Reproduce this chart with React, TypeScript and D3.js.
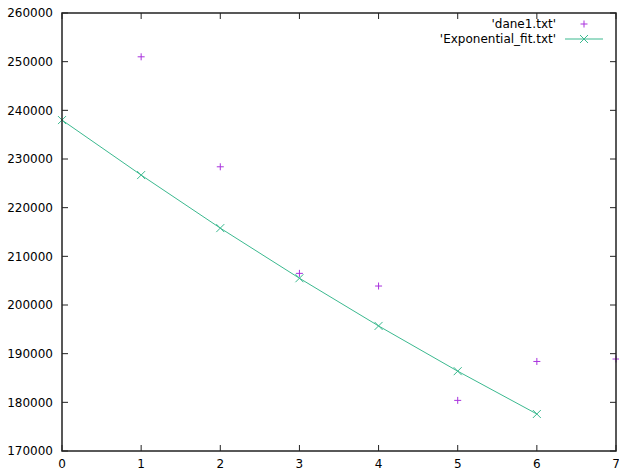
import React from "react";
import * as d3 from "d3";

const W = 619;
const H = 470;

const dataX = [1, 2, 3, 4, 5, 6, 7];
const dataY = [251000, 228400, 206500, 203900, 180400, 188400, 188900];

const fitX = [0, 1, 2, 3, 4, 5, 6];
const fitY = [238000, 226700, 215800, 205500, 195700, 186400, 177600];

const xTicks = [0, 1, 2, 3, 4, 5, 6, 7];
const yTicks = [170000, 180000, 190000, 200000, 210000, 220000, 230000, 240000, 250000, 260000];

const legendLabels = ["'dane1.txt'", "'Exponential_fit.txt'"];

const PURPLE = "#a933dd";
const GREEN = "#3bb98f";

export default function App() {
  const left = 62;
  const right = 616;
  const top = 13;
  const bottom = 451;
  const x = d3.scaleLinear().domain([0, 7]).range([left, right]);
  const y = d3.scaleLinear().domain([170000, 260000]).range([bottom, top]);
  const line = d3
    .line<number>()
    .x((_, i) => x(fitX[i]))
    .y((d) => y(d));
  const tick = 6;
  const font = "DejaVu Sans, sans-serif";

  const plus = (cx: number, cy: number, key: string) => (
    <g key={key} stroke={PURPLE} strokeWidth={1}>
      <line x1={cx - 3.5} x2={cx + 3.5} y1={cy} y2={cy} />
      <line x1={cx} x2={cx} y1={cy - 3.5} y2={cy + 3.5} />
    </g>
  );
  const cross = (cx: number, cy: number, key: string) => (
    <g key={key} stroke={GREEN} strokeWidth={1}>
      <line x1={cx - 4} x2={cx + 4} y1={cy - 4} y2={cy + 4} />
      <line x1={cx - 4} x2={cx + 4} y1={cy + 4} y2={cy - 4} />
    </g>
  );

  return (
    <svg
      width={W}
      height={H}
      style={{ position: "absolute", left: 0, top: 0, background: "#fff" }}
      fontFamily={font}
      fontSize={12}
    >
      <rect x={0} y={0} width={W} height={H} fill="#fff" />
      {/* ticks */}
      <g stroke="#222" strokeWidth={1}>
        {yTicks.map((t) => (
          <g key={"yt" + t}>
            <line x1={left} x2={left + tick} y1={y(t)} y2={y(t)} />
            <line x1={right - tick} x2={right} y1={y(t)} y2={y(t)} />
          </g>
        ))}
        {xTicks.map((t) => (
          <g key={"xt" + t}>
            <line x1={x(t)} x2={x(t)} y1={bottom} y2={bottom - tick} />
            <line x1={x(t)} x2={x(t)} y1={top} y2={top + tick} />
          </g>
        ))}
      </g>
      {/* tick labels */}
      <g fill="#000">
        {yTicks.map((t) => (
          <text key={"yl" + t} x={left - 9} y={y(t)} dy="0.35em" textAnchor="end">
            {t}
          </text>
        ))}
        {xTicks.map((t) => (
          <text key={"xl" + t} x={x(t)} y={bottom + 17} textAnchor="middle">
            {t}
          </text>
        ))}
      </g>
      {/* fit line */}
      <path d={line(fitY) || ""} fill="none" stroke={GREEN} strokeWidth={1} />
      {fitY.map((v, i) => cross(x(fitX[i]), y(v), "c" + i))}
      {/* data points */}
      {dataY.map((v, i) => plus(x(dataX[i]), y(v), "p" + i))}
      {/* legend */}
      <text x={556} y={24} dy="0.35em" textAnchor="end" fill="#000">
        {legendLabels[0]}
      </text>
      {plus(584, 24, "lp")}
      <text x={556} y={39} dy="0.35em" textAnchor="end" fill="#000">
        {legendLabels[1]}
      </text>
      <line x1={565} x2={603} y1={39} y2={39} stroke={GREEN} strokeWidth={1} />
      {cross(584, 39, "lc")}
      {/* border */}
      <rect
        x={left}
        y={top}
        width={right - left}
        height={bottom - top}
        fill="none"
        stroke="#222"
        strokeWidth={1.5}
      />
    </svg>
  );
}
